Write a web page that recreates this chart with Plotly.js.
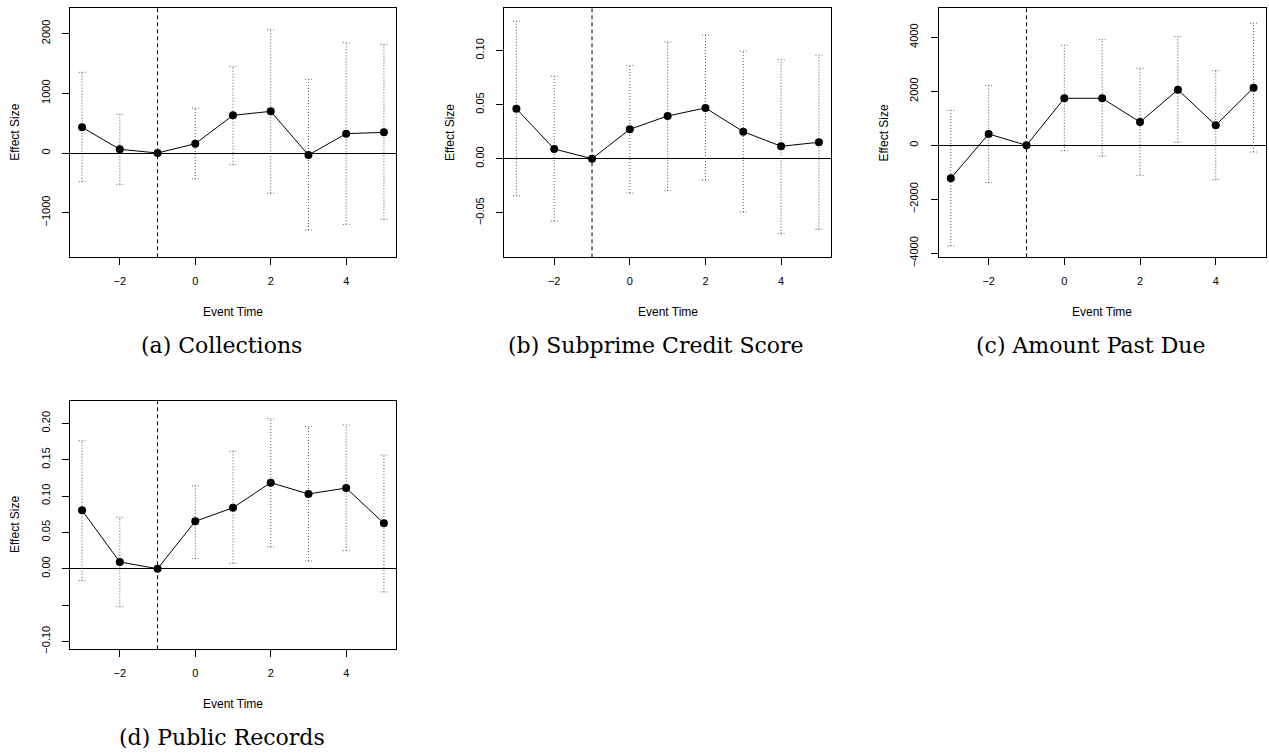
<!DOCTYPE html>
<html>
<head>
<meta charset="utf-8">
<script src="https://cdn.plot.ly/plotly-3.0.1.min.js"></script>
<style>html,body{margin:0;padding:0;background:#fff;}#chart{width:1269px;height:755px;}</style>
</head>
<body>
<div id="chart"></div>
<script>
// ---- data ----
const eventTime = [-3, -2, -1, 0, 1, 2, 3, 4, 5];
const referencePeriod = -1;
const xTicks = [-2, 0, 2, 4];

const collectionsEst = [430, 62, 0, 156, 631, 698, -34, 324, 346];
const collectionsLo  = [-480, -525, null, -435, -196, -675, -1290, -1195, -1111];
const collectionsHi  = [1352, 648, null, 749, 1446, 2066, 1235, 1848, 1820];

const subprimeEst = [0.0462, 0.009, 0, 0.0272, 0.0395, 0.0469, 0.025, 0.0115, 0.0152];
const subprimeLo  = [-0.0342, -0.0576, null, -0.0317, -0.0296, -0.0197, -0.0493, -0.0693, -0.0653];
const subprimeHi  = [0.127, 0.0762, null, 0.0863, 0.1079, 0.1143, 0.0995, 0.0915, 0.0956];

const pastDueEst = [-1222, 419, 0, 1741, 1741, 863, 2059, 741, 2133];
const pastDueLo  = [-3730, -1385, null, -200, -407, -1111, 111, -1274, -248];
const pastDueHi  = [1296, 2222, null, 3704, 3911, 2852, 4022, 2763, 4519];

const publicEst = [0.0803, 0.0092, 0, 0.0652, 0.0839, 0.1183, 0.1028, 0.111, 0.0624];
const publicLo  = [-0.0165, -0.0523, null, 0.0138, 0.0074, 0.0298, 0.0106, 0.0248, -0.032];
const publicHi  = [0.176, 0.0707, null, 0.114, 0.1615, 0.2063, 0.1953, 0.1977, 0.1564];

const collectionsTicks = [-1000, 0, 1000, 2000];
const collectionsTickText = ['\u22121000', '0', '1000', '2000'];
const subprimeTicks = [-0.05, 0, 0.05, 0.10];
const subprimeTickText = ['\u22120.05', '0.00', '0.05', '0.10'];
const pastDueTicks = [-4000, -2000, 0, 2000, 4000];
const pastDueTickText = ['\u22124000', '\u22122000', '0', '2000', '4000'];
const publicTicks = [-0.10, -0.05, 0, 0.05, 0.10, 0.15, 0.20];
const publicTickText = ['\u22120.10', '', '0.00', '0.05', '0.10', '0.15', '0.20'];

const captions = ['(a) Collections', '(b) Subprime Credit Score', '(c) Amount Past Due', '(d) Public Records'];

// ---- layout helpers ----
const W = 1269, H = 755;
const px = v => v / W;
const py = v => 1 - v / H;

const panels = [
  {est: collectionsEst, lo: collectionsLo, hi: collectionsHi, ticks: collectionsTicks, tickText: collectionsTickText,
   yr: [-1747, 2424], box: [70, 396, 8.3, 257.3]},
  {est: subprimeEst, lo: subprimeLo, hi: subprimeHi, ticks: subprimeTicks, tickText: subprimeTickText,
   yr: [-0.0911, 0.139], box: [504.3, 831, 8.3, 257.3]},
  {est: pastDueEst, lo: pastDueLo, hi: pastDueHi, ticks: pastDueTicks, tickText: pastDueTickText,
   yr: [-4148, 5074], box: [938.7, 1265.7, 8.3, 257.3]},
  {est: publicEst, lo: publicLo, hi: publicHi, ticks: publicTicks, tickText: publicTickText,
   yr: [-0.1109, 0.2311], box: [70, 396, 400.7, 649.3]}
];

const capHalf = 0.09;
const traces = [];
const layout = {
  width: W, height: H,
  margin: {l: 0, r: 0, t: 0, b: 0},
  paper_bgcolor: '#fff', plot_bgcolor: '#fff',
  showlegend: false,
  font: {family: 'Liberation Sans, Arial, sans-serif', size: 11, color: '#000'},
  shapes: [], annotations: []
};

panels.forEach((p, i) => {
  const n = i === 0 ? '' : String(i + 1);
  const xa = 'x' + n, ya = 'y' + n;
  const [x0, x1, y0, y1] = p.box;

  // error bars (dotted)
  const ex = [], ey = [], cx = [], cy = [];
  eventTime.forEach((t, k) => {
    if (p.lo[k] === null || p.hi[k] === null) return;
    ex.push(t, t, null); ey.push(p.lo[k], p.hi[k], null);
    cx.push(t - capHalf, t + capHalf, null); cy.push(p.hi[k], p.hi[k], null);
    cx.push(t - capHalf, t + capHalf, null); cy.push(p.lo[k], p.lo[k], null);
  });
  traces.push({x: ex, y: ey, xaxis: xa, yaxis: ya, mode: 'lines', type: 'scatter',
    line: {color: '#555', width: 1, dash: '1px,2px'}, hoverinfo: 'skip'});
  traces.push({x: cx, y: cy, xaxis: xa, yaxis: ya, mode: 'lines', type: 'scatter',
    line: {color: '#555', width: 1, dash: '1px,2px'}, hoverinfo: 'skip'});
  // point estimates
  traces.push({x: eventTime, y: p.est, xaxis: xa, yaxis: ya, mode: 'lines+markers', type: 'scatter',
    line: {color: '#000', width: 1}, marker: {color: '#000', size: 8}});

  layout['xaxis' + n] = {
    domain: [px(x0), px(x1)], anchor: ya, range: [-3.32, 5.32],
    tickvals: xTicks, ticktext: xTicks.map(v => v < 0 ? '\u2212' + Math.abs(v) : String(v)),
    ticks: 'outside', ticklen: 7, tickcolor: '#000', tickwidth: 1,
    showline: true, linecolor: '#000', linewidth: 1, mirror: true,
    showgrid: false, zeroline: false, ticklabelstandoff: 6,
    tickfont: {size: 11, color: '#000'}
  };
  layout['yaxis' + n] = {
    domain: [py(y1), py(y0)], anchor: xa, range: p.yr,
    tickvals: p.ticks, ticktext: p.tickText, tickangle: -90,
    ticks: 'outside', ticklen: 7, tickcolor: '#000', tickwidth: 1,
    showline: true, linecolor: '#000', linewidth: 1, mirror: true,
    showgrid: false, zeroline: true, zerolinecolor: '#000', zerolinewidth: 1,
    ticklabelstandoff: 8, tickfont: {size: 11, color: '#000'}
  };

  layout.shapes.push({type: 'line', xref: xa, yref: ya + ' domain', x0: referencePeriod, x1: referencePeriod, y0: 0, y1: 1,
    line: {color: '#000', width: 1, dash: '4px,3px'}});

  const cxm = (x0 + x1) / 2;
  layout.annotations.push({text: 'Event Time', xref: 'paper', yref: 'paper', x: px(cxm), y: py(y1 + 55),
    xanchor: 'center', yanchor: 'middle', showarrow: false, font: {size: 12, color: '#000'}});
  layout.annotations.push({text: 'Effect Size', xref: 'paper', yref: 'paper', x: px(x0 - 55), y: py((y0 + y1) / 2),
    xanchor: 'center', yanchor: 'middle', textangle: -90, showarrow: false, font: {size: 12, color: '#000'}});
  layout.annotations.push({text: captions[i], xref: 'paper', yref: 'paper', x: px(cxm - 11.5), y: py(y1 + 88),
    xanchor: 'center', yanchor: 'middle', showarrow: false,
    font: {family: 'DejaVu Serif, serif', size: 22, color: '#000'}});
});

Plotly.newPlot('chart', traces, layout, {staticPlot: true, displayModeBar: false});
</script>
</body>
</html>
